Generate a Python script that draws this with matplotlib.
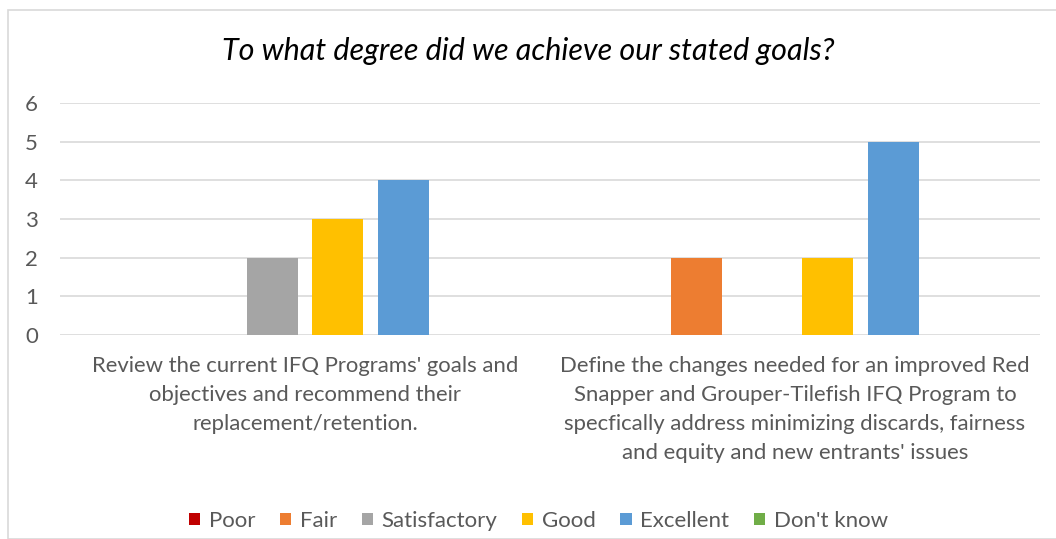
import numpy as np
import matplotlib.pyplot as plt
from matplotlib.patches import Rectangle

# data
categories = ["Review the current IFQ Programs' goals and\nobjectives and recommend their\nreplacement/retention.",
              "Define the changes needed for an improved Red\nSnapper and Grouper-Tilefish IFQ Program to\nspecfically address minimizing discards, fairness\nand equity and new entrants' issues"]
series = ['Poor', 'Fair', 'Satisfactory', 'Good', 'Excellent', "Don't know"]
values = {
    'Poor': [0, 0],
    'Fair': [0, 2],
    'Satisfactory': [2, 0],
    'Good': [3, 2],
    'Excellent': [4, 5],
    "Don't know": [0, 0],
}
colors = ['#c00000', '#ed7d31', '#a5a5a5', '#ffc000', '#5b9bd5', '#70ad47']

plt.rcParams['font.family'] = ['Lato', 'DejaVu Sans']
text_col = '#595959'

fig = plt.figure(figsize=(10.56, 5.39), dpi=100)
ax = fig.add_axes([0.0568, 0.3785, 0.928, 0.4305])

# chart border
fig.patches.append(Rectangle((8 / 1056, 0.0), 1.0, 1 - 10 / 539, transform=fig.transFigure,
                             fill=False, edgecolor='#d9d9d9', linewidth=1.2))

x = np.arange(len(categories))
pitch = 0.1337
width = 0.104
for i, (name, c) in enumerate(zip(series, colors)):
    offset = (i - 2.5) * pitch
    ax.bar(x + offset, values[name], width=width, color=c, label=name, zorder=3)

ax.set_xlim(-0.5, 1.5)
ax.set_ylim(0, 6)
ax.set_yticks(range(0, 7))
ax.grid(axis='y', color='#d9d9d9', linewidth=1.2, zorder=0)
for s in ax.spines.values():
    s.set_visible(False)
ax.tick_params(axis='both', length=0, colors=text_col, labelsize=16)
ax.tick_params(axis='y', pad=16)
ax.set_xticks(x)
ax.set_xticklabels(categories, fontsize=15.9, color=text_col, linespacing=1.56)
ax.tick_params(axis='x', pad=15)

fig.text(0.5, 1 - 51 / 539, 'To what degree did we achieve our stated goals?',
         ha='center', va='center', fontsize=22, style='italic', color='#000000')

fig.legend(loc='center', bbox_to_anchor=(0.51, 1 - 521 / 539), ncol=6, frameon=False,
           fontsize=16, labelcolor=text_col, handlelength=0.5, handleheight=0.5,
           handletextpad=0.4, columnspacing=1.1)

fig.savefig('out.png', dpi=100)
